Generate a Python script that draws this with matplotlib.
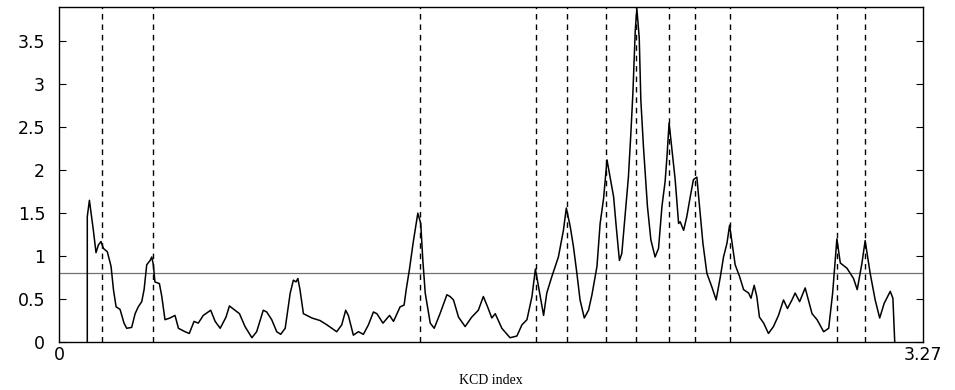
import matplotlib
matplotlib.use('Agg')
import matplotlib.pyplot as plt

# KCD index curve
kcd_x = [0.107, 0.107, 0.115, 0.130, 0.140, 0.149, 0.159, 0.168, 0.183, 0.197,
         0.206, 0.216, 0.231, 0.246, 0.256, 0.275, 0.288, 0.300, 0.313, 0.322,
         0.332, 0.345, 0.351, 0.357, 0.363, 0.380, 0.389, 0.401, 0.420, 0.439,
         0.452, 0.477, 0.493, 0.511, 0.527, 0.546, 0.565, 0.574, 0.591, 0.610,
         0.632, 0.645, 0.666, 0.683, 0.704, 0.730, 0.748, 0.773, 0.786, 0.805,
         0.824, 0.839, 0.856, 0.875, 0.887, 0.897, 0.904, 0.912, 0.925, 0.957,
         0.988, 1.014, 1.051, 1.070, 1.085, 1.095, 1.114, 1.133, 1.152, 1.171,
         1.190, 1.203, 1.226, 1.251, 1.266, 1.279, 1.291, 1.306, 1.314, 1.326,
         1.341, 1.358, 1.369, 1.377, 1.386, 1.405, 1.420, 1.442, 1.468, 1.480,
         1.493, 1.512, 1.537, 1.562, 1.587, 1.606, 1.622, 1.638, 1.651, 1.676,
         1.707, 1.733, 1.752, 1.771, 1.790, 1.803, 1.815, 1.834, 1.846, 1.865,
         1.890, 1.909, 1.920, 1.935, 1.947, 1.960, 1.972, 1.988, 2.004, 2.017,
         2.036, 2.048, 2.061, 2.074, 2.093, 2.099, 2.109, 2.121, 2.130, 2.143,
         2.155, 2.164, 2.172, 2.181, 2.187, 2.196, 2.202, 2.212, 2.227, 2.240,
         2.256, 2.269, 2.282, 2.294, 2.301, 2.309, 2.320, 2.332, 2.345, 2.351,
         2.364, 2.376, 2.389, 2.401, 2.414, 2.424, 2.437, 2.452, 2.471, 2.487,
         2.503, 2.515, 2.528, 2.538, 2.551, 2.559, 2.576, 2.591, 2.610, 2.619,
         2.631, 2.641, 2.651, 2.667, 2.685, 2.704, 2.723, 2.742, 2.757, 2.774,
         2.786, 2.803, 2.824, 2.850, 2.869, 2.894, 2.913, 2.928, 2.944, 2.957,
         2.982, 3.007, 3.021, 3.039, 3.051, 3.070, 3.089, 3.106, 3.123, 3.146,
         3.156, 3.163]
kcd_y = [0.00, 1.46, 1.65, 1.30, 1.04, 1.13, 1.17, 1.09, 1.05, 0.88,
         0.61, 0.41, 0.38, 0.22, 0.16, 0.17, 0.33, 0.41, 0.47, 0.61,
         0.90, 0.95, 0.99, 0.90, 0.70, 0.68, 0.53, 0.26, 0.28, 0.31,
         0.16, 0.12, 0.10, 0.24, 0.22, 0.31, 0.35, 0.37, 0.24, 0.16,
         0.29, 0.42, 0.37, 0.33, 0.18, 0.05, 0.12, 0.37, 0.35, 0.26,
         0.12, 0.09, 0.16, 0.57, 0.72, 0.70, 0.74, 0.61, 0.33, 0.28,
         0.25, 0.20, 0.12, 0.20, 0.37, 0.31, 0.08, 0.12, 0.09, 0.20,
         0.35, 0.33, 0.22, 0.31, 0.24, 0.33, 0.41, 0.43, 0.61, 0.84,
         1.17, 1.50, 1.38, 0.95, 0.57, 0.22, 0.16, 0.33, 0.55, 0.53,
         0.49, 0.29, 0.18, 0.29, 0.37, 0.53, 0.41, 0.28, 0.33, 0.16,
         0.05, 0.07, 0.20, 0.26, 0.53, 0.85, 0.64, 0.31, 0.57, 0.76,
         0.99, 1.30, 1.56, 1.34, 1.11, 0.80, 0.49, 0.28, 0.37, 0.55,
         0.88, 1.38, 1.67, 2.12, 1.79, 1.69, 1.34, 0.95, 1.03, 1.50,
         1.92, 2.41, 2.90, 3.63, 3.88, 3.54, 2.82, 2.27, 1.58, 1.19,
         0.99, 1.09, 1.58, 1.87, 2.16, 2.55, 2.24, 1.89, 1.38, 1.40,
         1.30, 1.46, 1.69, 1.89, 1.92, 1.58, 1.15, 0.80, 0.64, 0.49,
         0.76, 0.99, 1.15, 1.36, 1.07, 0.90, 0.76, 0.61, 0.57, 0.51,
         0.66, 0.53, 0.29, 0.22, 0.10, 0.18, 0.31, 0.49, 0.39, 0.49,
         0.57, 0.47, 0.63, 0.33, 0.26, 0.12, 0.16, 0.57, 1.20, 0.92,
         0.86, 0.74, 0.61, 0.92, 1.18, 0.80, 0.49, 0.28, 0.45, 0.59,
         0.51, 0.00]

# detected change points (dashed lines)
change_points = [0.164, 0.355, 1.367, 1.806, 1.921, 2.070, 2.185, 2.308,
                 2.408, 2.539, 2.943, 3.050]
threshold = 0.8

x_max = 3.27
y_max = 3.9
y_ticks = [0, 0.5, 1, 1.5, 2, 2.5, 3, 3.5]

fig = plt.figure(figsize=(9.55, 3.9), dpi=100)
ax = fig.add_axes([0.0618, 0.123, 0.9047, 0.859])

for cp in change_points:
    ax.axvline(cp, color='black', linestyle=(0, (4, 3.5)), linewidth=1.0)
ax.axhline(threshold, color='#707070', linewidth=0.9)
ax.plot(kcd_x, kcd_y, color='black', linewidth=1.1)

ax.set_xlim(0, x_max)
ax.set_ylim(0, y_max)
ax.set_xticks([0, x_max])
ax.set_xticklabels(['0', '3.27'], fontfamily='DejaVu Sans', fontsize=12.5)
ax.set_yticks(y_ticks)
ax.set_yticklabels(['0', '0.5', '1', '1.5', '2', '2.5', '3', '3.5'],
                   fontfamily='DejaVu Sans', fontsize=12.5)
ax.tick_params(axis='y', direction='in', length=5, right=True, pad=10)
ax.tick_params(axis='x', direction='in', length=0, pad=3)
for s in ax.spines.values():
    s.set_linewidth(1.0)

ax.set_xlabel('KCD index', fontfamily='Liberation Serif', fontsize=10)
ax.xaxis.set_label_coords(0.5, -0.095)

fig.savefig('out.png', dpi=100)
